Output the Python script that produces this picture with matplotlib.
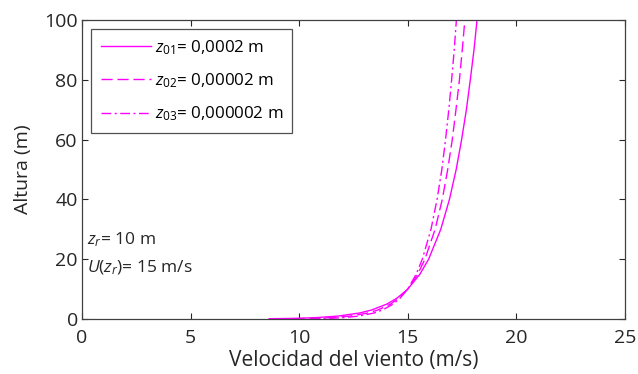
import numpy as np
import matplotlib
matplotlib.use("Agg")
import matplotlib.pyplot as plt

plt.rcParams['font.family'] = ['Open Sans', 'DejaVu Sans']
plt.rcParams['mathtext.fontset'] = 'custom'
plt.rcParams['mathtext.rm'] = 'Open Sans'
plt.rcParams['mathtext.it'] = 'Open Sans:italic'

# alturas (m)
altura = [0.1, 0.2, 0.3, 0.5, 1, 2, 3, 5, 7, 10, 15, 20, 30, 40, 50, 60, 70, 80, 90, 100]

# velocidades leidas para cada rugosidad (m/s)
u_z01 = [8.62, 9.58, 10.14, 10.85, 11.81, 12.77, 13.33, 14.04, 14.51, 15.00,
         15.56, 15.96, 16.52, 16.92, 17.23, 17.48, 17.70, 17.88, 18.05, 18.19]
u_z02 = [9.74, 10.53, 11.00, 11.58, 12.37, 13.16, 13.62, 14.21, 14.59, 15.00,
         15.46, 15.79, 16.26, 16.59, 16.84, 17.05, 17.22, 17.38, 17.51, 17.63]
u_z03 = [10.52, 11.20, 11.60, 12.09, 12.76, 13.44, 13.83, 14.33, 14.65, 15.00,
         15.39, 15.67, 16.07, 16.35, 16.57, 16.74, 16.89, 17.02, 17.14, 17.24]

etiquetas = [r'$z_{\mathit{01}}$= 0,0002 m',
             r'$z_{\mathit{02}}$= 0,00002 m',
             r'$z_{\mathit{03}}$= 0,000002 m']

fig = plt.figure(figsize=(6.38, 3.74), dpi=100)
ax = fig.add_axes([0.1285, 0.147, 0.851, 0.7995])

mag = '#ff00ff'
ax.plot(u_z01, altura, color=mag, lw=1.0, ls='-', label=etiquetas[0])
ax.plot(u_z02, altura, color=mag, lw=1.0, ls=(0, (8, 3.5)), label=etiquetas[1])
ax.plot(u_z03, altura, color=mag, lw=1.0, ls=(0, (7, 2.5, 1.5, 2.5)), label=etiquetas[2])

ax.set_xlim(0, 25)
ax.set_ylim(0, 100)
ax.set_xticks([0, 5, 10, 15, 20, 25])
ax.set_yticks([0, 20, 40, 60, 80, 100])
ax.tick_params(direction='in', top=True, right=True, labelsize=14,
               length=4, width=0.8, colors='#262626', labelcolor='#262626')
ax.tick_params(axis='x', pad=7)
ax.tick_params(axis='y', pad=3)
for s in ax.spines.values():
    s.set_color('#404040')
    s.set_linewidth(0.9)

ax.set_xlabel('Velocidad del viento (m/s)', fontsize=15, color='#262626', labelpad=2)
ax.set_ylabel('Altura (m)', fontsize=14, color='#262626', labelpad=9)

leg = ax.legend(loc='upper left', bbox_to_anchor=(0.017, 0.97), fontsize=12.2,
                frameon=True, fancybox=False, handlelength=3.0, handletextpad=0.2,
                labelspacing=0.85, borderpad=0.55, borderaxespad=0)
leg.get_frame().set_edgecolor('#262626')
leg.get_frame().set_linewidth(0.9)

ax.text(0.25, 26.5, r'$z_r$= 10 m', fontsize=12.5, color='#262626', va='center')
ax.text(0.25, 17.0, r'$U(z_r)$= 15 m/s', fontsize=12.5, color='#262626', va='center')

fig.savefig('out.png', dpi=100)
